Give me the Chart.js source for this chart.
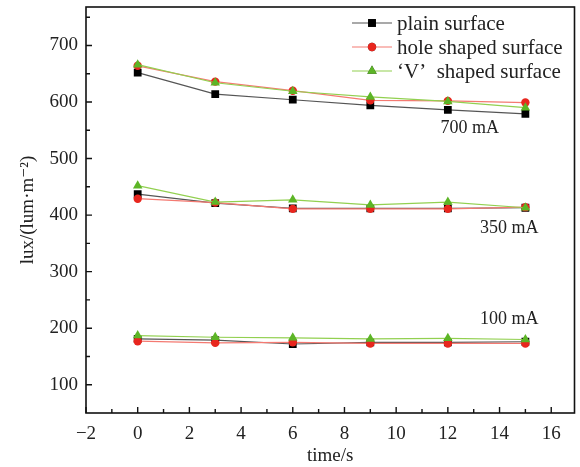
<!DOCTYPE html>
<html>
<head>
<meta charset="utf-8">
<script src="https://cdn.jsdelivr.net/npm/chart.js@4.4.1/dist/chart.umd.min.js"></script>
<style>
  html, body { margin: 0; padding: 0; background: #fff; }
  #wrap { width: 580px; height: 467px; position: relative; }
</style>
</head>
<body>
<div id="wrap"><canvas id="c"></canvas></div>
<script>
// time points (s)
const times = [0, 3, 6, 9, 12, 15];

// 700 mA
const plain700 = [652, 614, 604, 594, 586, 579];
const hole700 = [664, 636, 620, 603, 602, 599];
const v700 = [666, 634, 619, 609, 601, 590];
// 350 mA
const plain350 = [437, 421, 412, 412, 412, 413];
const hole350 = [429, 422, 411, 411, 411, 414];
const v350 = [452, 423, 427, 418, 423, 413];
// 100 mA
const plain100 = [181, 179, 172, 175, 175, 176];
const hole100 = [177, 174, 175, 173, 173, 173];
const v100 = [187, 184, 183, 181, 182, 180];

const surfaces = ['plain surface', 'hole shaped surface', '\u2018V\u2019  shaped surface'];
const currentLabels = ['700 mA', '350 mA', '100 mA'];
const currentLabelPos = [[12.85, 553], [14.38, 376], [14.38, 215]];

const xTicks = [-2, 0, 2, 4, 6, 8, 10, 12, 14, 16];
const xMinor = [-1, 1, 3, 5, 7, 9, 11, 13, 15];
const yTicks = [100, 200, 300, 400, 500, 600, 700];
const yMinor = [150, 250, 350, 450, 550, 650, 750];

const SERIF = "'Liberation Serif', 'DejaVu Serif', serif";

const styles = [
  { line: '#555555', fill: '#000000', point: 'rect', radius: 5.5, order: 3 },
  { line: '#f47a72', fill: '#e8261e', point: 'circle', radius: 4.2, order: 2 },
  { line: '#92d050', fill: '#5cb526', point: 'triangle', radius: 5.5, order: 1 }
];

const groups = [
  [plain700, hole700, v700],
  [plain350, hole350, v350],
  [plain100, hole100, v100]
];

const datasets = [];
groups.forEach((g, gi) => {
  g.forEach((vals, si) => {
    const s = styles[si];
    datasets.push({
      label: surfaces[si],
      data: times.map((t, i) => ({ x: t, y: vals[i] })),
      borderColor: s.line,
      borderWidth: 1.2,
      backgroundColor: s.fill,
      pointBackgroundColor: s.fill,
      pointBorderColor: s.fill,
      pointBorderWidth: 0,
      pointStyle: s.point,
      pointRadius: s.radius,
      showLine: true,
      order: s.order,
      tension: 0
    });
  });
});

const framePlugin = {
  id: 'frame',
  afterDatasetsDraw(chart) {
    const { ctx, chartArea: a, scales } = chart;
    ctx.save();
    ctx.strokeStyle = '#111';
    ctx.lineWidth = 1.6;
    ctx.strokeRect(a.left, a.top, a.right - a.left, a.bottom - a.top);
    ctx.lineWidth = 1.4;
    ctx.beginPath();
    xTicks.forEach(v => {
      const x = scales.x.getPixelForValue(v);
      ctx.moveTo(x, a.bottom); ctx.lineTo(x, a.bottom - 6);
    });
    xMinor.forEach(v => {
      const x = scales.x.getPixelForValue(v);
      ctx.moveTo(x, a.bottom); ctx.lineTo(x, a.bottom - 4);
    });
    yTicks.forEach(v => {
      const y = scales.y.getPixelForValue(v);
      ctx.moveTo(a.left, y); ctx.lineTo(a.left + 6, y);
    });
    yMinor.forEach(v => {
      const y = scales.y.getPixelForValue(v);
      ctx.moveTo(a.left, y); ctx.lineTo(a.left + 4, y);
    });
    ctx.stroke();

    // current labels
    ctx.fillStyle = '#222';
    ctx.font = '18px ' + SERIF;
    ctx.textAlign = 'center';
    ctx.textBaseline = 'middle';
    currentLabels.forEach((t, i) => {
      const p = currentLabelPos[i];
      ctx.fillText(t, scales.x.getPixelForValue(p[0]), scales.y.getPixelForValue(p[1]));
    });

    // legend
    const lx = 352, ly = [23, 47, 71];
    ctx.font = '21px ' + SERIF;
    surfaces.forEach((name, i) => {
      const s = styles[i];
      ctx.strokeStyle = s.line;
      ctx.lineWidth = 1.2;
      ctx.beginPath();
      ctx.moveTo(lx, ly[i]); ctx.lineTo(lx + 40, ly[i]);
      ctx.stroke();
      Chart.helpers.drawPoint(ctx, { pointStyle: s.point, radius: s.radius, borderWidth: 0 }, lx + 20, ly[i]);
      ctx.fillStyle = s.fill;
      ctx.fill();
      ctx.fillStyle = '#222';
      ctx.textAlign = 'left';
      ctx.fillText(name, lx + 45, ly[i] + 1);
    });
    ctx.restore();
  }
};

new Chart(document.getElementById('c'), {
  type: 'scatter',
  data: { datasets },
  options: {
    responsive: true,
    maintainAspectRatio: false,
    animation: false,
    layout: { padding: { top: 7, right: 2, bottom: 0, left: 0 } },
    plugins: { legend: { display: false }, tooltip: { enabled: false } },
    scales: {
      x: {
        type: 'linear',
        min: -2,
        max: 16.9,
        afterBuildTicks: s => { s.ticks = xTicks.map(v => ({ value: v })); },
        afterFit: s => { s.height = 54; s.paddingLeft = 0; s.paddingRight = 0; },
        grid: { display: false, drawTicks: false },
        border: { display: false },
        ticks: {
          padding: 10,
          color: '#222',
          font: { family: SERIF, size: 19 },
          callback: v => (v < 0 ? '\u2212' + Math.abs(v) : v)
        },
        title: {
          display: true,
          text: 'time/s',
          color: '#222',
          font: { family: SERIF, size: 19 },
          padding: { top: 0, bottom: 0 }
        }
      },
      y: {
        type: 'linear',
        min: 50,
        max: 768,
        afterBuildTicks: s => { s.ticks = yTicks.map(v => ({ value: v })); },
        afterFit: s => { s.width = 86; s.paddingTop = 0; s.paddingBottom = 0; },
        grid: { display: false, drawTicks: false },
        border: { display: false },
        ticks: {
          padding: 8,
          color: '#222',
          font: { family: SERIF, size: 19 }
        },
        title: {
          display: true,
          text: 'lux/(lum\u00b7m\u207b\u00b2)',
          color: '#222',
          font: { family: SERIF, size: 19 },
          padding: { top: 17, bottom: 0 }
        }
      }
    }
  },
  plugins: [framePlugin]
});
</script>
</body>
</html>
